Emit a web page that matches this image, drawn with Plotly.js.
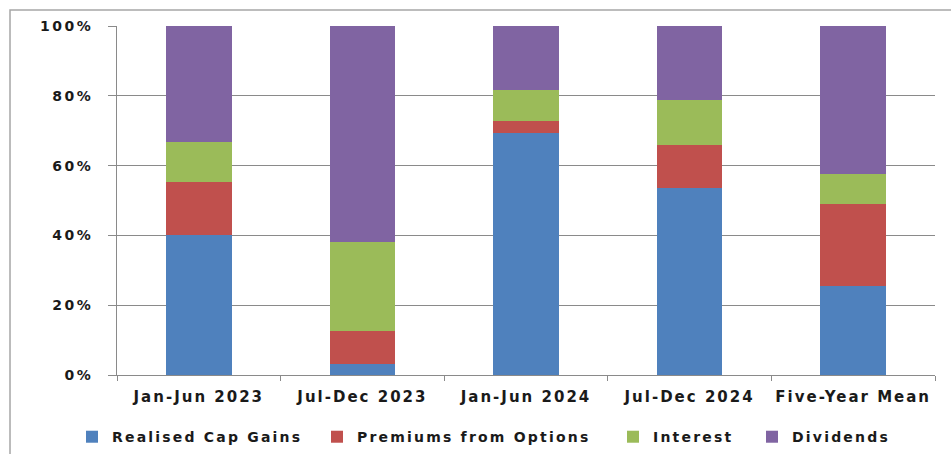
<!DOCTYPE html>
<html>
<head>
<meta charset="utf-8">
<script src="https://cdn.plot.ly/plotly-3.0.1.min.js"></script>
<style>
  html, body { margin: 0; padding: 0; background: #ffffff; }
  #chart { width: 951px; height: 454px; }
  .xtick text { letter-spacing: 2px; }
  .ytick text { letter-spacing: 2.5px; }
  .infolayer text, text.legendtext { letter-spacing: 2.2px !important; }
  .infolayer .scrollbox { clip-path: none !important; }
</style>
</head>
<body>
<div id="chart"></div>
<script>
// Income sources as a share of total distributions, by period
const periods = ['Jan-Jun 2023', 'Jul-Dec 2023', 'Jan-Jun 2024', 'Jul-Dec 2024', 'Five-Year Mean'];

const realisedCapGains   = [40.1, 3.2, 69.2, 53.5, 25.6];
const premiumsOptions    = [15.3, 9.5, 3.6, 12.4, 23.4];
const interest           = [11.5, 25.5, 8.9, 12.9, 8.6];
const dividends          = [33.1, 61.8, 18.3, 21.2, 42.4];

const yTicks = [0, 20, 40, 60, 80, 100];

const seriesNames  = ['Realised Cap Gains', 'Premiums from Options', 'Interest', 'Dividends'];
const seriesValues = [realisedCapGains, premiumsOptions, interest, dividends];
const seriesColors = ['#4F81BD', '#C0504D', '#9BBB59', '#8064A2'];

// each series gets its own legend box so the entries can be spaced along the bottom
const legendIds = ['legend', 'legend2', 'legend3', 'legend4'];
const legendTextLeft = [112, 357, 653, 792];   // pixel x where each legend label starts

const fontFamily = '"DejaVu Sans", Verdana, sans-serif';
const textColor = '#1a1a1a';

const margin = { l: 117, r: 16, t: 26, b: 79 };
const plotWidth = 951 - margin.l - margin.r;

const traces = seriesNames.map((name, i) => ({
  type: 'bar',
  name: name,
  x: periods,
  y: seriesValues[i],
  legend: legendIds[i],
  marker: { color: seriesColors[i], line: { width: 0 } },
  hoverinfo: 'x+y+name'
}));

const layout = {
  width: 951,
  height: 454,
  margin: Object.assign({ autoexpand: false }, margin),
  paper_bgcolor: '#ffffff',
  plot_bgcolor: '#ffffff',
  barmode: 'stack',
  bargap: 0.6,
  font: { family: fontFamily, size: 13, color: textColor, weight: 'bold' },
  showlegend: true,
  xaxis: {
    type: 'category',
    automargin: false,
    showline: true,
    linecolor: '#8a8a8a',
    linewidth: 1,
    showgrid: false,
    ticks: 'outside',
    tickson: 'boundaries',
    ticklen: 5,
    tickcolor: '#8a8a8a',
    ticklabelstandoff: 8,
    tickfont: { family: fontFamily, size: 15, color: textColor, weight: 'bold' },
    fixedrange: true
  },
  yaxis: {
    automargin: false,
    range: [0, 100],
    tickvals: yTicks,
    ticktext: yTicks.map(v => v + '%'),
    showline: true,
    linecolor: '#8a8a8a',
    linewidth: 1,
    showgrid: true,
    gridcolor: '#8a8a8a',
    gridwidth: 1,
    zeroline: false,
    ticks: 'outside',
    ticklen: 8,
    tickcolor: '#8a8a8a',
    ticklabelstandoff: 12,
    tickfont: { family: fontFamily, size: 14, color: textColor, weight: 'bold' },
    fixedrange: true
  },
  shapes: [{
    // outer chart frame
    type: 'rect',
    xref: 'paper', yref: 'paper',
    x0: -0.1308, x1: 1.05,
    y0: -0.4, y1: 1.0458,
    line: { color: '#a6a6a6', width: 1.5 },
    fillcolor: 'rgba(0,0,0,0)',
    layer: 'below'
  }]
};

legendIds.forEach((id, i) => {
  layout[id] = {
    orientation: 'h',
    x: (legendTextLeft[i] - 40 - margin.l) / plotWidth,
    xanchor: 'left',
    y: -0.178,
    yanchor: 'middle',
    bgcolor: 'rgba(0,0,0,0)',
    font: { family: fontFamily, size: 14, color: textColor, weight: 'bold' },
    itemclick: false,
    itemdoubleclick: false
  };
});

Plotly.newPlot('chart', traces, layout, { displayModeBar: false });
</script>
</body>
</html>
